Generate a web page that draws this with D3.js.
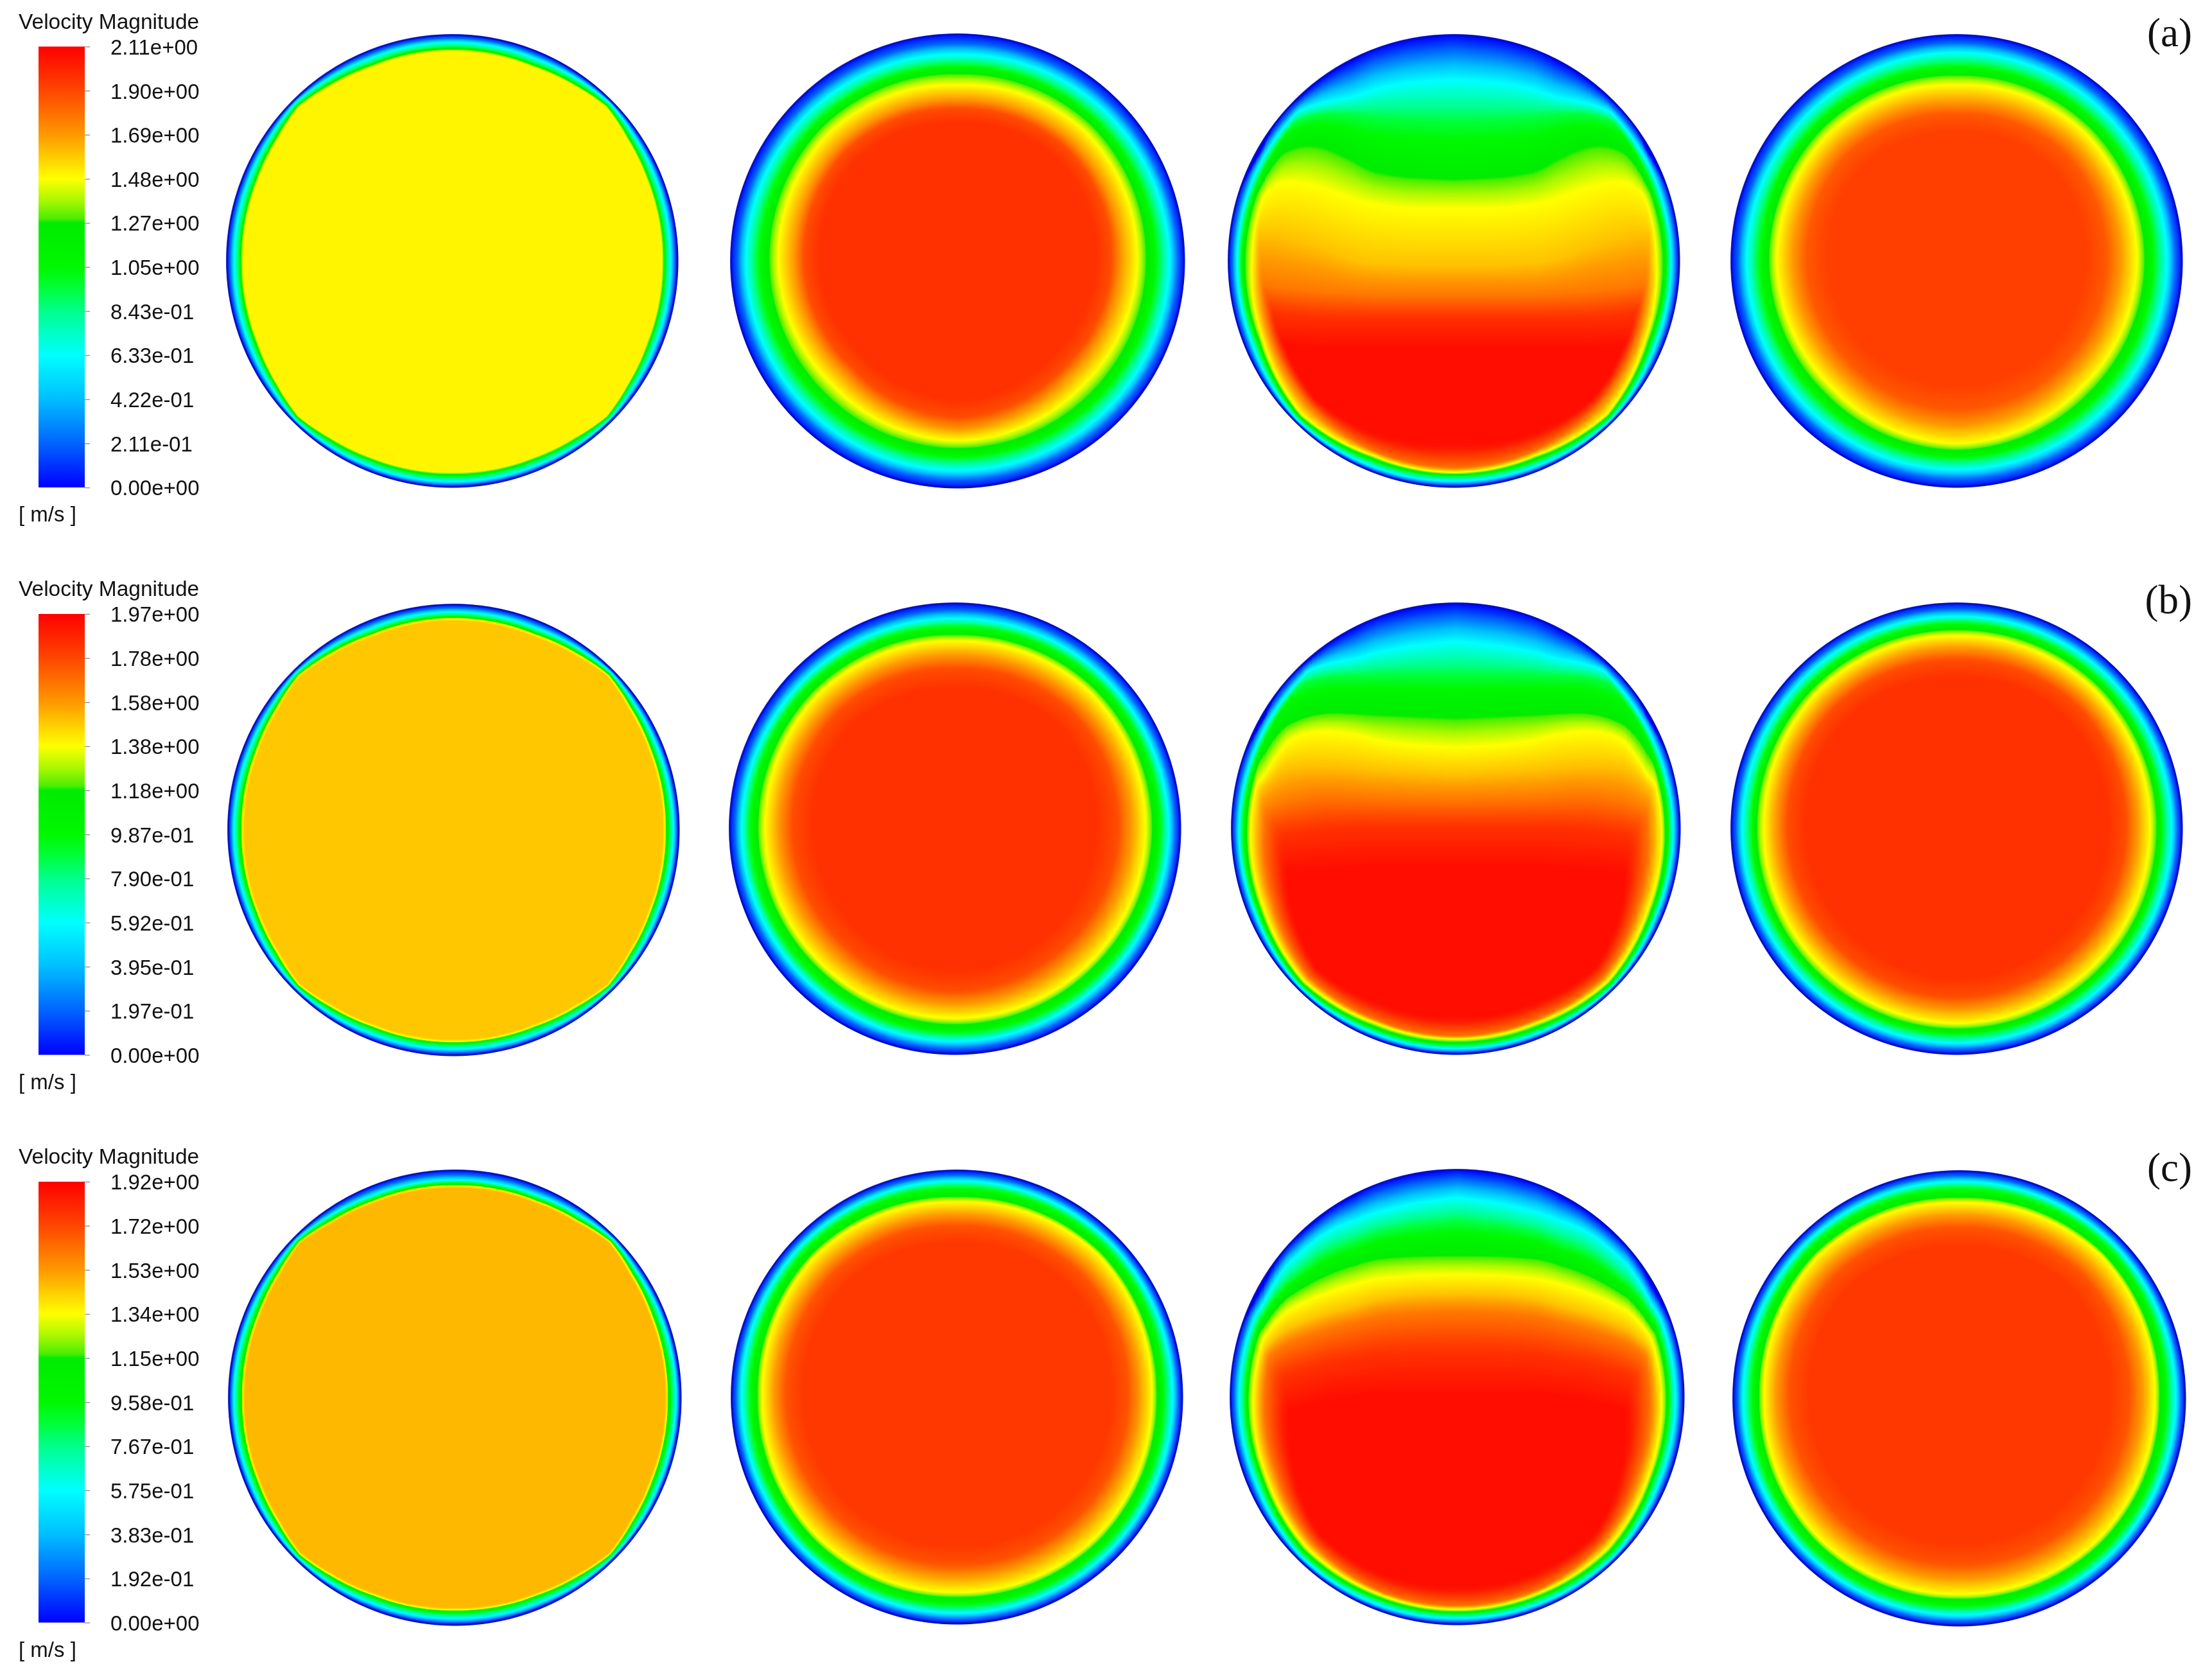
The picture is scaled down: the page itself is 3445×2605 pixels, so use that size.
<!DOCTYPE html>
<html>
<head>
<meta charset="utf-8">
<title>Velocity Magnitude</title>
<script src="https://cdn.jsdelivr.net/npm/d3@7"></script>
<style>
	html, body {margin:0; padding:0; background:#fff;}
	#chart {position:relative; width:3445px; height:2605px; overflow:hidden;}
	#chart canvas, #chart svg {position:absolute; left:0; top:0;}
	.tick text {font-family:"Liberation Sans", Arial, sans-serif; font-size:33px; fill:#111;}
</style>
</head>
<body>
<div id="chart"></div>
<script>
// legend, fraction of the range -> colour
var colourStops = [0, 0.1, 0.2, 0.3, 0.4, 0.45, 0.5, 0.6, 0.61, 0.65, 0.7, 0.8, 0.9, 1];
var colourValues = ["#0000ff", "#0064ff", "#00beff", "#00ffff", "#00ff8c", "#00ff3c", "#00f800", "#00ec00", "#4cee00", "#a8f800", "#ffff00", "#ff9900", "#ff4600", "#ff0000"];

var rowNames = ["(a)", "(b)", "(c)"];
var legendTitle = "Velocity Magnitude";
var legendUnit = "[ m/s ]";
var labelsA = ["0.00e+00", "2.11e-01", "4.22e-01", "6.33e-01", "8.43e-01", "1.05e+00", "1.27e+00", "1.48e+00", "1.69e+00", "1.90e+00", "2.11e+00"];
var labelsB = ["0.00e+00", "1.97e-01", "3.95e-01", "5.92e-01", "7.90e-01", "9.87e-01", "1.18e+00", "1.38e+00", "1.58e+00", "1.78e+00", "1.97e+00"];
var labelsC = ["0.00e+00", "1.92e-01", "3.83e-01", "5.75e-01", "7.67e-01", "9.58e-01", "1.15e+00", "1.34e+00", "1.53e+00", "1.72e+00", "1.92e+00"];

// wall bands: for each angle from the top of the disc (left/right taken alike),
// the radius (fraction of R) where the velocity reaches each level
var anglesFine = [0, 22.5, 35, 45, 55, 67.5, 90, 112.5, 125, 135, 145, 157.5, 180];
var anglesRing = [0, 45, 90, 135, 180];
var anglesCap = [0, 22.5, 45, 67.5, 90, 112.5, 135, 157.5, 180];

var levelsA1 = [0.3, 0.45, 0.6, 0.71];
var wallA1 = [
	[.965,.945,.935,.925],[.965,.945,.935,.925],[.975,.96,.95,.94],[.985,.975,.968,.96],[.975,.96,.95,.94],[.97,.95,.94,.93],[.965,.945,.935,.925],
	[.97,.95,.94,.93],[.975,.96,.952,.945],[.985,.977,.97,.965],[.98,.965,.955,.945],[.975,.955,.945,.935],[.972,.952,.94,.93]];
var levelsB1 = [0.3, 0.45, 0.6, 0.7, 0.755];
var wallB1 = [
	[.965,.95,.94,.935,.925],[.965,.95,.94,.935,.925],[.975,.965,.955,.95,.94],[.985,.978,.972,.968,.96],[.975,.965,.955,.95,.94],[.972,.955,.945,.94,.93],[.972,.955,.94,.935,.925],
	[.972,.955,.945,.94,.93],[.98,.965,.955,.95,.94],[.985,.978,.972,.968,.96],[.98,.965,.955,.95,.94],[.972,.952,.942,.937,.927],[.968,.95,.94,.935,.925]];
var levelsC1 = [0.3, 0.45, 0.6, 0.7, 0.77];
var wallC1 = [
	[.955,.945,.934,.93,.92],[.96,.948,.938,.934,.924],[.972,.96,.95,.946,.936],[.985,.978,.972,.968,.96],[.975,.965,.955,.95,.94],[.975,.958,.945,.94,.93],[.975,.957,.94,.937,.927],
	[.975,.958,.945,.94,.93],[.98,.965,.955,.95,.94],[.985,.978,.972,.968,.96],[.98,.965,.955,.95,.94],[.972,.952,.94,.936,.926],[.968,.948,.934,.93,.92]];

var levelsRing2 = [0.3, 0.45, 0.6, 0.7, 0.8, 0.93];
var levelsRing4 = [0.3, 0.45, 0.6, 0.7, 0.8, 0.91];
var levelsRingC = [0.3, 0.45, 0.6, 0.7, 0.8, 0.92];
var wallA2 = [[.908,.866,.824,.775,.711,.61],[.925,.88,.84,.80,.73,.63],[.932,.886,.83,.79,.72,.61],[.925,.875,.825,.775,.705,.59],[.92,.873,.824,.79,.74,.61]];
var wallA4 = [[.92,.87,.82,.778,.70,.57],[.925,.88,.835,.80,.73,.59],[.93,.883,.832,.797,.725,.57],[.925,.875,.825,.785,.71,.56],[.919,.876,.834,.805,.727,.55]];
var wallB2 = [[.93,.90,.859,.831,.768,.62],[.94,.915,.875,.85,.785,.65],[.945,.915,.873,.842,.78,.63],[.94,.91,.865,.84,.77,.62],[.94,.908,.866,.838,.775,.63]];
var wallB4 = [[.94,.915,.88,.855,.80,.67],[.95,.92,.89,.865,.81,.69],[.95,.915,.885,.855,.80,.67],[.95,.915,.885,.855,.795,.66],[.947,.915,.885,.86,.80,.66]];
var wallC2 = [[.951,.927,.882,.859,.803,.68],[.96,.94,.90,.885,.82,.70],[.954,.922,.884,.862,.808,.68],[.955,.93,.89,.87,.80,.67],[.95,.92,.88,.858,.79,.655]];
var wallC4 = [[.951,.927,.882,.859,.803,.665],[.96,.94,.90,.885,.82,.69],[.954,.922,.884,.862,.808,.66],[.955,.93,.89,.87,.80,.65],[.95,.92,.88,.858,.79,.635]];

var levelsCapWall = [0.3, 0.45, 0.6, 0.7, 0.85, 1];
var wallA3 = [[.99,.985,.98,.975,.97,.96],[.985,.98,.975,.97,.96,.95],[.955,.935,.915,.89,.85,.8],[.96,.94,.92,.89,.85,.8],[.96,.945,.925,.895,.84,.78],
	[.965,.945,.93,.915,.872,.83],[.985,.975,.965,.955,.9,.86],[.975,.955,.94,.928,.909,.83],[.969,.95,.94,.932,.91,.80]];
var wallB3 = [[.99,.985,.98,.975,.97,.96],[.985,.98,.975,.97,.96,.95],[.96,.94,.92,.895,.85,.78],[.96,.945,.925,.905,.85,.75],[.966,.95,.93,.915,.85,.726],
	[.968,.955,.94,.925,.875,.80],[.985,.975,.965,.954,.925,.87],[.975,.96,.945,.93,.915,.84],[.972,.957,.943,.929,.915,.83]];
var wallC3 = [[.99,.985,.98,.975,.97,.96],[.985,.98,.975,.97,.96,.95],[.955,.93,.91,.885,.84,.75],[.958,.935,.915,.89,.84,.74],[.96,.936,.92,.898,.845,.73],
	[.962,.94,.925,.91,.86,.78],[.98,.965,.95,.935,.90,.85],[.975,.955,.943,.93,.915,.84],[.969,.952,.941,.93,.913,.83]];

// flow field across the disc: for each level, its height (fraction of R, up is negative)
// on a set of columns going from the axis to the side
var capColumns = [0, 0.2, 0.35, 0.45, 0.6, 0.75, 0.85, 1];
var capLevelsA = [0, 0.3, 0.45, 0.6, 0.7, 0.76, 0.84, 0.93, 0.98];
var capA3 = [
	[-1, -.98, -.937, -.893, -.8, -.661, -.527, -.2],
	[-.80, -.79, -.76, -.72, -.70, -.64, -.475, -.15],
	[-.617, -.62, -.63, -.645, -.655, -.60, -.46, -.12],
	[-.362, -.37, -.39, -.44, -.525, -.50, -.36, -.1],
	[-.234, -.23, -.25, -.27, -.333, -.362, -.305, -.08],
	[.02, .02, .01, 0, -.064, -.106, -.135, -.05],
	[.15, .15, .15, .145, .135, .12, .106, .09],
	[.25, .25, .25, .25, .25, .235, .22, .2],
	[.375, .375, .375, .375, .375, .37, .36, .34]];
var capB3 = [
	[-1, -.98, -.937, -.893, -.8, -.661, -.527, -.2],
	[-.83, -.81, -.78, -.75, -.73, -.66, -.50, -.15],
	[-.68, -.68, -.68, -.675, -.675, -.62, -.47, -.12],
	[-.49, -.50, -.505, -.51, -.52, -.47, -.36, -.1],
	[-.36, -.37, -.39, -.42, -.44, -.41, -.24, -.08],
	[-.24, -.25, -.26, -.27, -.28, -.28, -.20, -.05],
	[-.128, -.13, -.135, -.14, -.15, -.12, -.08, .02],
	[-.01, -.01, -.01, -.01, 0, .02, .05, .1],
	[.17, .17, .17, .17, .175, .19, .2, .22]];
var capC3 = [
	[-1, -.98, -.937, -.893, -.8, -.661, -.527, -.2],
	[-.876, -.85, -.81, -.78, -.72, -.58, -.44, -.15],
	[-.77, -.75, -.72, -.68, -.63, -.496, -.40, -.12],
	[-.622, -.62, -.61, -.585, -.53, -.44, -.33, -.1],
	[-.538, -.535, -.52, -.50, -.45, -.383, -.28, -.08],
	[-.453, -.45, -.43, -.40, -.36, -.30, -.22, -.05],
	[-.375, -.37, -.355, -.33, -.29, -.235, -.165, -.02],
	[-.2, -.2, -.19, -.175, -.15, -.10, -.03, .06],
	[-.017, -.017, -.015, -.01, .01, .06, .09, .11]];

// layout, in pixels of the picture
var width = 3445, height = 2605;
var barLeft = 60, barRight = 132;
var barTops = [72.5, 956, 1840], barHeight = 686.5;
var discLayout = [
	[704, 406, 352, 353], [1491, 406, 354, 354], [2264, 406, 352, 353], [3047, 406, 352, 353],
	[706, 1292, 352, 352], [1487, 1290, 352, 352], [2267, 1290, 350, 352], [3047, 1290, 352, 352],
	[708, 2176, 353, 355], [1490, 2175, 352, 354], [2269, 2175, 354, 355], [3051, 2177, 353, 355]
];
var edgeShare = 0.54; // the velocity stays low near the wall: 0.1 is reached 54% of the way to the 0.3 band

var discFields = [
	{angles: anglesFine, levels: levelsA1, wall: wallA1},
	{angles: anglesRing, levels: levelsRing2, wall: wallA2},
	{angles: anglesCap, levels: levelsCapWall, wall: wallA3, capLevels: capLevelsA, cap: capA3},
	{angles: anglesRing, levels: levelsRing4, wall: wallA4},
	{angles: anglesFine, levels: levelsB1, wall: wallB1},
	{angles: anglesRing, levels: levelsRing2, wall: wallB2},
	{angles: anglesCap, levels: levelsCapWall, wall: wallB3, capLevels: capLevelsA, cap: capB3},
	{angles: anglesRing, levels: levelsRing2, wall: wallB4},
	{angles: anglesFine, levels: levelsC1, wall: wallC1},
	{angles: anglesRing, levels: levelsRingC, wall: wallC2},
	{angles: anglesCap, levels: levelsCapWall, wall: wallC3, capLevels: capLevelsA, cap: capC3},
	{angles: anglesRing, levels: levelsRingC, wall: wallC4}
];

var colour = d3.scaleLinear().domain(colourStops).range(colourValues).clamp(true);
var colourTable = d3.range(1025).map(function(i){
	var c = d3.rgb(colour(i/1024));
	return [c.r, c.g, c.b];
});

function smoothMin(a, b, k){
	var h = Math.max(k - Math.abs(a - b), 0)/k;
	return Math.min(a, b) - h*h*k*0.25;
}

// one radial scale per half degree, so the pixel loop only has to look it up
function buildWallScales(spec){
	var scales = [];
	for (var i = 0; i <= 360; i++){
		var theta = i/2;
		var radii = spec.levels.map(function(level, j){
			var byAngle = d3.scaleLinear().domain(spec.angles).range(spec.wall.map(function(row){return row[j];}));
			return byAngle(theta);
		});
		var edge = radii[0] + edgeShare*(1 - radii[0]);
		var domain = radii.slice().reverse().concat([edge, 1]);
		var range = spec.levels.slice().reverse().concat([0.1, 0]);
		if (spec.angles === anglesRing){
			// soft shoulder into the core, no visible step at the plateau
			domain.splice(1, 0, domain[1] - 0.4*(domain[1] - domain[0]));
			range.splice(1, 0, range[1] + 0.7*(range[0] - range[1]));
		}
		scales.push(d3.scaleLinear().domain(domain).range(range).clamp(true));
	}
	return scales;
}

function buildCapScales(spec){
	if (!spec.cap) return null;
	var toT = d3.scaleLinear().domain(capColumns).range(capColumns.map(function(d, i){return i/(capColumns.length - 1);}));
	var curves = spec.cap.map(function(row){return d3.interpolateBasis(row);});
	var scales = [];
	for (var i = 0; i <= 200; i++){
		var t = toT(i/200);
		var prev = -2;
		var heights = curves.map(function(curve){
			var h = Math.max(curve(t), prev + 0.001);
			prev = h;
			return h;
		});
		scales.push(d3.scaleLinear().domain(heights).range(spec.capLevels).clamp(true));
	}
	return scales;
}

function drawDisc(image, layout, spec){
	var cx = layout[0], cy = layout[1], rx = layout[2], ry = layout[3];
	var uScale = d3.scaleLinear().domain([cx - rx, cx + rx]).range([-1, 1]);
	var wScale = d3.scaleLinear().domain([cy - ry, cy + ry]).range([-1, 1]);
	var wallScales = buildWallScales(spec);
	var capScales = buildCapScales(spec);
	var x0 = Math.floor(cx - rx) - 1, x1 = Math.ceil(cx + rx) + 1;
	var y0 = Math.floor(cy - ry) - 1, y1 = Math.ceil(cy + ry) + 1;

	for (var y = y0; y <= y1; y++){
		var w = wScale(y);
		for (var x = x0; x <= x1; x++){
			var u = uScale(x);
			var r = Math.sqrt(u*u + w*w);
			if (r > 1 + 1/rx) continue;
			var absU = Math.abs(u);
			var theta = Math.atan2(absU, -w)*180/Math.PI;
			var v = wallScales[Math.round(theta*2)](r);
			if (capScales){
				v = smoothMin(v, capScales[Math.min(200, Math.round(absU*200))](w), 0.03);
			}
			var c = colourTable[Math.max(0, Math.min(1024, Math.round(v*1024)))];
			var alpha = Math.max(0, Math.min(1, (1 - r)*rx + 0.5));
			var i = (y*width + x)*4;
			image.data[i] = c[0]*alpha + 255*(1 - alpha);
			image.data[i + 1] = c[1]*alpha + 255*(1 - alpha);
			image.data[i + 2] = c[2]*alpha + 255*(1 - alpha);
			image.data[i + 3] = 255;
		}
	}
}

var chart = d3.select("#chart");
var canvas = chart.append("canvas").attr("width", width).attr("height", height);
var g = canvas.node().getContext("2d");
g.fillStyle = "#fff";
g.fillRect(0, 0, width, height);
var image = g.getImageData(0, 0, width, height);
discFields.forEach(function(spec, i){
	drawDisc(image, discLayout[i], spec);
});
g.putImageData(image, 0, 0);

var svg = chart.append("svg").attr("width", width).attr("height", height);

// the dark rim where the colour fades out at the wall
svg.selectAll(".rim")
	.data(discLayout)
	.enter().append("ellipse")
	.attr("class", "rim")
	.attr("cx", function(d){return d[0];})
	.attr("cy", function(d){return d[1];})
	.attr("rx", function(d){return d[2] - 1.5;})
	.attr("ry", function(d){return d[3] - 1.5;})
	.attr("fill", "none")
	.attr("stroke", "#0010a8")
	.attr("stroke-opacity", 0.7)
	.attr("stroke-width", 3);

var gradient = svg.append("defs").append("linearGradient")
	.attr("id", "legend-ramp")
	.attr("x1", 0).attr("y1", 1).attr("x2", 0).attr("y2", 0);
gradient.selectAll("stop")
	.data(colourStops)
	.enter().append("stop")
	.attr("offset", function(d){return d;})
	.attr("stop-color", function(d, i){return colourValues[i];});

[labelsA, labelsB, labelsC].forEach(function(labels, row){
	var top = barTops[row];
	var legend = svg.append("g").attr("class", "legend");
	var y = d3.scaleLinear().domain([0, 10]).range([top + barHeight, top]);

	legend.append("text")
		.attr("x", 29).attr("y", top - 28)
		.style("font-family", '"Liberation Sans", Arial, sans-serif')
		.style("font-size", "33.5px")
		.style("fill", "#111")
		.text(legendTitle);

	legend.append("rect")
		.attr("x", barLeft).attr("y", top)
		.attr("width", barRight - barLeft).attr("height", barHeight)
		.attr("fill", "url(#legend-ramp)");

	var axis = d3.axisRight(y)
		.tickValues(d3.range(11))
		.tickSize(8)
		.tickPadding(32)
		.tickFormat(function(d){return labels[d];});

	var axisG = legend.append("g")
		.attr("transform", "translate(" + barRight + ",0)")
		.call(axis);
	axisG.select(".domain").remove();
	axisG.selectAll(".tick line").attr("stroke", "#999").attr("stroke-width", 1.5);
	axisG.selectAll(".tick text").attr("dy", "0.36em");

	legend.append("text")
		.attr("x", 29).attr("y", top + barHeight + 53)
		.style("font-family", '"Liberation Sans", Arial, sans-serif')
		.style("font-size", "33px")
		.style("fill", "#111")
		.text(legendUnit);

	svg.append("text")
		.attr("x", 3414).attr("y", top - 1)
		.attr("text-anchor", "end")
		.style("font-family", '"Liberation Serif", "Times New Roman", serif')
		.style("font-size", "63px")
		.style("fill", "#111")
		.text(rowNames[row]);
});
</script>
</body>
</html>
